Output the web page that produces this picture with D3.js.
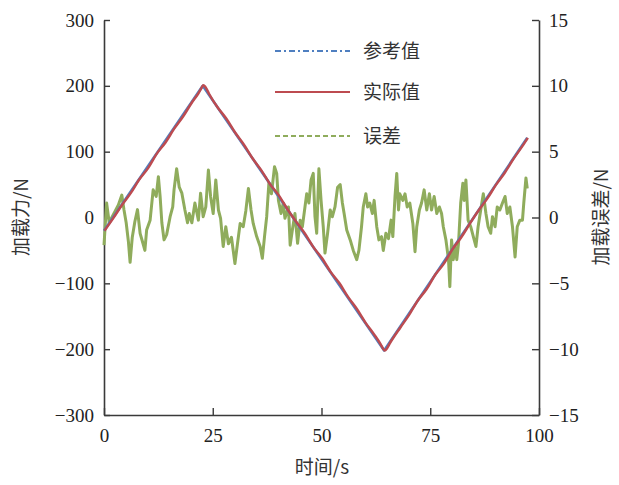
<!DOCTYPE html>
<html><head><meta charset="utf-8">
<script src="https://cdn.jsdelivr.net/npm/d3@7/dist/d3.min.js"></script>
<style>body{margin:0;background:#fff}svg{display:block}</style>
</head><body><svg id="c" width="619" height="485"></svg>
<script>
const xTicks = [0, 25, 50, 75, 100];
const leftTicks = [-300, -200, -100, 0, 100, 200, 300];
const rightTicks = [-15, -10, -5, 0, 5, 10, 15];
const seriesNames = ["参考值", "实际值", "误差"];

const refT = [0, 22.7, 64.4, 97.3];
const refV = [-20, 200, -202, 121];

const actualT = [0,2,4,6,8,10,12,14,16,18,20,21.5,22.3,22.7,23.2,24,26,28,30,32,34,36,38,40,42,44,46,48,50,52,54,56,58,60,62,63.5,64.0,64.4,64.9,65.5,68,70,72,74,76,78,80,82,84,86,88,90,92,94,96,97.3];
const actualV = [-20,-1,19,37,58,75,97,114,135,153,174,188,197,201,198,188,167,150,129,111,90,72,51,34,13,-6,-24,-45,-62,-83,-100,-121,-139,-160,-178,-193,-199,-202,-199,-192,-167,-148,-126,-109,-87,-70,-48,-30,-9,11,29,50,68,89,108,121];

const errT = [0,0.6,1.2,1.8,2.5,3.3,4.1,4.6,5.1,5.6,6.0,6.5,7.1,7.7,8.3,8.9,9.4,9.8,10.6,11.3,12.0,12.5,12.9,13.3,13.8,14.4,15.2,15.8,16.1,16.7,17.3,17.9,18.6,19.2,19.6,20.2,20.9,21.7,22.2,22.8,23.4,24.0,24.5,25.1,25.7,26.3,26.8,27.4,28.0,28.6,29.3,30.1,30.6,31.3,32.0,32.6,33.2,33.8,34.3,35.1,35.9,36.4,36.9,37.4,37.9,38.5,39.2,39.7,40.1,40.7,41.2,41.6,42.4,42.8,43.3,43.9,44.5,45.1,45.6,46.2,46.6,47.1,47.6,48.1,48.5,48.9,49.4,49.9,50.4,50.8,51.4,52.0,52.5,53.1,53.7,54.3,54.8,55.2,55.8,56.6,57.3,58.1,58.6,59.2,59.6,60.2,60.6,61.1,61.7,62.1,62.7,63.2,63.8,64.2,64.8,65.4,66.0,66.4,66.9,67.3,67.7,68.0,68.7,69.2,69.7,70.3,71.0,71.5,71.9,72.5,73.0,73.6,74.2,74.8,75.3,75.9,76.5,77.1,77.6,78.0,78.6,79.2,79.5,79.9,80.3,80.7,81.1,81.5,82.0,82.5,82.8,83.2,83.7,84.3,84.9,85.5,86.0,86.6,87.2,87.8,88.3,88.9,89.3,89.9,90.4,91.0,91.6,92.2,92.7,93.3,93.9,94.5,95.0,95.6,96.2,96.5,97.0,97.3];
const errV = [-2.1,1.1,-0.4,0,0.45,0.95,1.7,0.57,-0.4,-1.8,-3.4,-1.5,-0.3,0.6,-1.2,-1.9,-2.5,-0.95,-0.2,2.1,1.6,3.1,1.6,-0.4,-1.7,-1.3,0.06,0.8,2.1,3.7,2.3,1.85,0.57,-0.4,0.3,-0.4,1.1,-0.2,1.85,0.06,0.8,3.6,1.6,0.3,2.85,0.57,-0.06,-2.2,-0.7,-2.0,-1.5,-3.5,-2.2,-0.45,-0.7,0.5,2.2,0.57,-0.45,-1.45,-2.2,-3.1,-1.45,0.06,2.6,1.8,3.86,3.35,1.3,0.3,1.1,-0.06,0.8,-2.1,-0.95,0.3,-1.96,-0.2,-0.7,0.8,1.8,1.1,2.85,3.35,0.06,-1.2,3.7,1.3,-0.7,-2.7,-1.2,0.57,0.06,0.8,2.3,2.5,1.1,0.3,-0.95,-1.7,-2.5,-3.2,-2.5,-0.7,0.8,1.8,0.8,1.1,0.3,1.3,-0.7,-1.7,-1.45,-2.5,-1.2,-1.6,-0.2,-1.45,1.6,3.35,0.57,1.8,1.3,1.8,0.8,1.1,-0.45,-2.6,-0.7,0.57,1.1,2.1,0.57,1.8,0.57,1.6,0.3,0.8,0.3,-0.7,-1.7,-3.2,-5.25,-1.7,-3.2,-2.2,-3.2,-1.96,1.1,2.6,1.3,2.85,-0.2,-0.7,-1.45,-2.2,-0.7,0.57,1.8,0.3,-0.7,-1.2,0.06,-0.7,0.8,0.57,1.1,1.6,0.3,0.8,-0.7,-3.0,-0.7,-0.2,-0.2,1.1,3.0,2.2];

const colors = {ref: "#4f7fc0", act: "#bd4b50", err: "#8fac5c", axis: "#3a3a3a"};
const serif = "'Liberation Serif','Times New Roman',serif";
const cjk = "'Noto Sans CJK SC','Noto Sans',sans-serif";

const svg = d3.select("#c");
const L = 104, R = 539, T = 20, B = 415;
const x = d3.scaleLinear().domain([0, 100]).range([L, R]);
const yL = d3.scaleLinear().domain([-300, 300]).range([B, T]);
const yR = d3.scaleLinear().domain([-15, 15]).range([B, T]);
const fmt = d => d < 0 ? "\u2212" + Math.abs(d) : String(d);

const gx = svg.append("g").attr("transform", `translate(0,${B})`)
  .call(d3.axisBottom(x).tickValues(xTicks).tickSizeInner(-7).tickSizeOuter(0).tickPadding(14).tickFormat(fmt));
const gl = svg.append("g").attr("transform", `translate(${L},0)`)
  .call(d3.axisLeft(yL).tickValues(leftTicks).tickSizeInner(-6).tickSizeOuter(0).tickPadding(10).tickFormat(fmt));
const gr = svg.append("g").attr("transform", `translate(${R},0)`)
  .call(d3.axisRight(yR).tickValues(rightTicks).tickSizeInner(-7).tickSizeOuter(0).tickPadding(10).tickFormat(fmt));
[gx, gl, gr].forEach(g => {
  g.select(".domain").attr("stroke", colors.axis).attr("stroke-width", 1.6);
  g.selectAll(".tick line").attr("stroke", colors.axis).attr("stroke-width", 1.4);
  g.selectAll(".tick text").attr("fill", "#222").style("font-family", serif).style("font-size", "19px");
});

const refData = refT.map((t, i) => [t, refV[i]]);
const actData = actualT.map((t, i) => [t, actualV[i]]);
const errData = errT.map((t, i) => [t, errV[i]]);
const lineL = d3.line().x(d => x(d[0])).y(d => yL(d[1]));
const lineR = d3.line().x(d => x(d[0])).y(d => yR(d[1]));

svg.append("path").datum(errData).attr("d", lineR).attr("fill", "none")
  .attr("stroke", colors.err).attr("stroke-width", 3).attr("stroke-linejoin", "round");
svg.append("path").datum(refData).attr("d", lineL).attr("fill", "none")
  .attr("stroke", colors.ref).attr("stroke-width", 2.6).attr("stroke-linejoin", "round");
svg.append("path").datum(actData).attr("d", d3.line().x(d => x(d[0]) + 0.6).y(d => yL(d[1])).curve(d3.curveMonotoneX)).attr("fill", "none")
  .attr("stroke", colors.act).attr("stroke-width", 2.5).attr("stroke-linejoin", "round");

const legY = [51, 92, 136];
const legStyles = [
  {c: colors.ref, dash: "6,3,2,3", w: 2},
  {c: colors.act, dash: null, w: 2.2},
  {c: colors.err, dash: "5,3", w: 2}
];
seriesNames.forEach((n, i) => {
  const l = svg.append("line").attr("x1", 275).attr("x2", 350).attr("y1", legY[i]).attr("y2", legY[i])
    .attr("stroke", legStyles[i].c).attr("stroke-width", legStyles[i].w);
  if (legStyles[i].dash) l.attr("stroke-dasharray", legStyles[i].dash);
  svg.append("text").attr("x", 363).attr("y", legY[i]).attr("dy", "0.36em")
    .style("font-family", cjk).style("font-size", "19px").attr("fill", "#333").text(n);
});

svg.append("text").attr("x", 322).attr("y", 474).attr("text-anchor", "middle")
  .style("font-family", cjk).style("font-size", "19px").attr("fill", "#333").text("时间/s");
svg.append("text").attr("transform", "translate(28,217) rotate(-90)").attr("text-anchor", "middle")
  .style("font-family", cjk).style("font-size", "19px").attr("fill", "#333").text("加载力/N");
svg.append("text").attr("transform", "translate(608,217) rotate(-90)").attr("text-anchor", "middle")
  .style("font-family", cjk).style("font-size", "19px").attr("fill", "#333").text("加载误差/N");
</script></body></html>
